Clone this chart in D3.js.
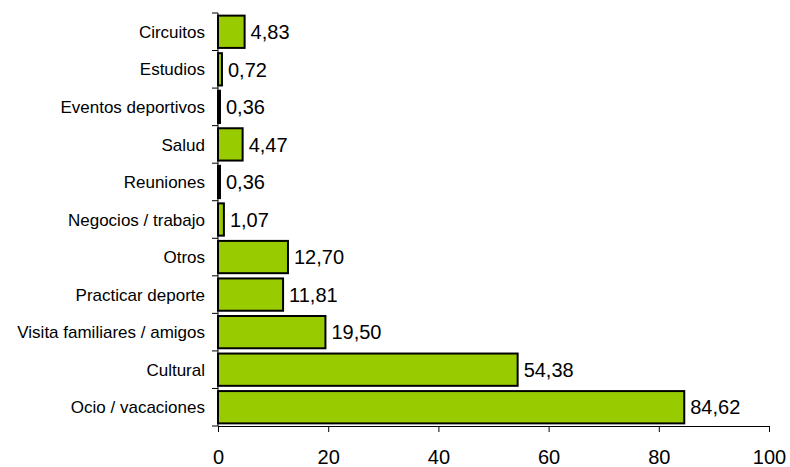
<!DOCTYPE html>
<html><head><meta charset="utf-8">
<script src="https://cdn.jsdelivr.net/npm/d3@7"></script>
<style>body{margin:0;background:#fff}svg{display:block}</style>
</head><body>
<script>
const categories = ["Circuitos","Estudios","Eventos deportivos","Salud","Reuniones","Negocios / trabajo","Otros","Practicar deporte","Visita familiares / amigos","Cultural","Ocio / vacaciones"];
const values = [4.83,0.72,0.36,4.47,0.36,1.07,12.70,11.81,19.50,54.38,84.62];
const xTicks = [0,20,40,60,80,100];

const W=790,H=467;
const svg=d3.select("body").append("svg").attr("width",W).attr("height",H);
const x=d3.scaleLinear().domain([0,100]).range([218,769]);
const y=d3.scaleBand().domain(categories).range([13,426]).paddingInner(0.14).paddingOuter(0.07);
const font="Liberation Sans, Arial, sans-serif";

svg.append("g").selectAll("rect").data(values).join("rect")
  .attr("x",x(0)).attr("y",(d,i)=>y(categories[i]))
  .attr("width",d=>x(d)-x(0)).attr("height",y.bandwidth())
  .attr("fill","#99CC00").attr("stroke","#000").attr("stroke-width",2);

svg.append("g").selectAll("text").data(values).join("text")
  .attr("x",d=>x(d)+6).attr("y",(d,i)=>y(categories[i])+y.bandwidth()/2)
  .attr("dy","0.36em").attr("font-family",font).attr("font-size",20).attr("fill","#000")
  .text(d=>d.toFixed(2).replace(".",","));

// y axis
const step=(426-13)/categories.length;
const ya=svg.append("g");
ya.append("line").attr("x1",218).attr("x2",218).attr("y1",13).attr("y2",426).attr("stroke","#000");
d3.range(categories.length+1).forEach(i=>{
  ya.append("line").attr("x1",212).attr("x2",218).attr("y1",13+i*step).attr("y2",13+i*step).attr("stroke","#000");
});
ya.selectAll("text").data(categories).join("text")
  .attr("x",205).attr("y",(d,i)=>13+(i+0.5)*step).attr("dy","0.36em")
  .attr("text-anchor","end").attr("font-family",font).attr("font-size",17).text(d=>d);

// x axis
const xa=svg.append("g").attr("transform","translate(0,426)")
  .call(d3.axisBottom(x).tickValues(xTicks).tickSize(6).tickPadding(18).tickFormat(d3.format("d")));
xa.select(".domain").attr("stroke","#000");
xa.selectAll("text").attr("font-family",font).attr("font-size",20).attr("fill","#000");
</script>
</body></html>
